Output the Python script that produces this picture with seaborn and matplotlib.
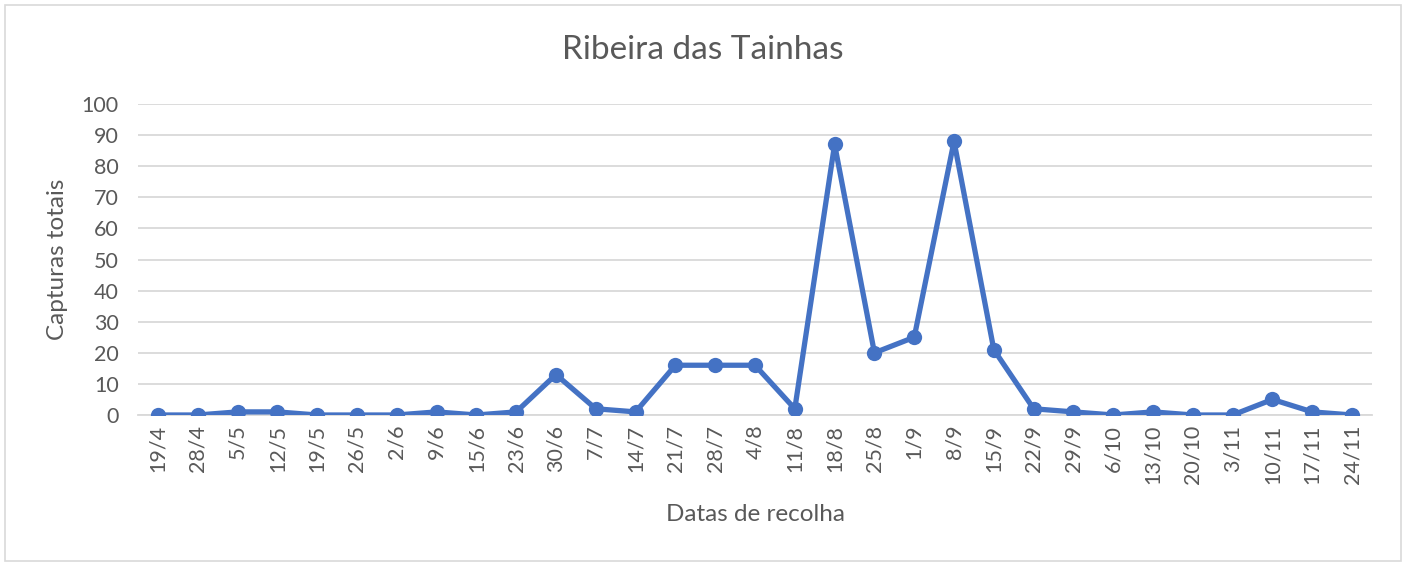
import matplotlib
matplotlib.use("Agg")
import matplotlib.pyplot as plt
import seaborn as sns
import pandas as pd
from matplotlib.patches import Rectangle

dates = ["19/4", "28/4", "5/5", "12/5", "19/5", "26/5", "2/6", "9/6", "15/6", "23/6",
         "30/6", "7/7", "14/7", "21/7", "28/7", "4/8", "11/8", "18/8", "25/8", "1/9",
         "8/9", "15/9", "22/9", "29/9", "6/10", "13/10", "20/10", "3/11", "10/11", "17/11",
         "24/11"]
capturas = [0, 0, 1, 1, 0, 0, 0, 1, 0, 1,
            13, 2, 1, 16, 16, 16, 2, 87, 20, 25,
            88, 21, 2, 1, 0, 1, 0, 0, 5, 1,
            0]

df = pd.DataFrame({"Datas de recolha": dates, "Capturas totais": capturas})

sns.set_theme(style="white")
plt.rcParams["font.family"] = ["Lato", "DejaVu Sans"]

fig = plt.figure(figsize=(14.06, 5.62), dpi=100)
ax = fig.add_axes([138/1406, 1-415/562, (1372-138)/1406, (415-104)/562])

text_color = "#595959"
line_color = "#4472C4"

sns.lineplot(data=df, x="Datas de recolha", y="Capturas totais", sort=False,
             color=line_color, linewidth=3.8, marker="o", markersize=11,
             markeredgewidth=0, ax=ax, zorder=3)

ax.set_xlim(-0.5, len(dates) - 0.5)
ax.set_ylim(0, 100)
ax.set_yticks(range(0, 101, 10))
ax.yaxis.grid(True, color="#D9D9D9", linewidth=1.3)
ax.xaxis.grid(False)
for s in ["top", "right", "left"]:
    ax.spines[s].set_visible(False)
ax.spines["bottom"].set_color("#D9D9D9")
ax.spines["bottom"].set_linewidth(1.3)
ax.tick_params(axis="both", length=0, colors=text_color, labelsize=15.5)
ax.tick_params(axis="y", pad=14)
ax.tick_params(axis="x", pad=7)
plt.setp(ax.get_xticklabels(), rotation=90)

ax.set_xlabel("Datas de recolha", fontsize=17.5, color=text_color, labelpad=14)
ax.set_ylabel("Capturas totais", fontsize=17.5, color=text_color, labelpad=10)
fig.text(0.5, 1 - 50/562, "Ribeira das Tainhas", ha="center", va="center",
         fontsize=24, color=text_color)

fig.patches.append(Rectangle((5/1406, 1-561/562), 1396/1406, 556/562,
                             transform=fig.transFigure, fill=False,
                             edgecolor="#D9D9D9", linewidth=1.2))

fig.savefig("out.png", dpi=100)
